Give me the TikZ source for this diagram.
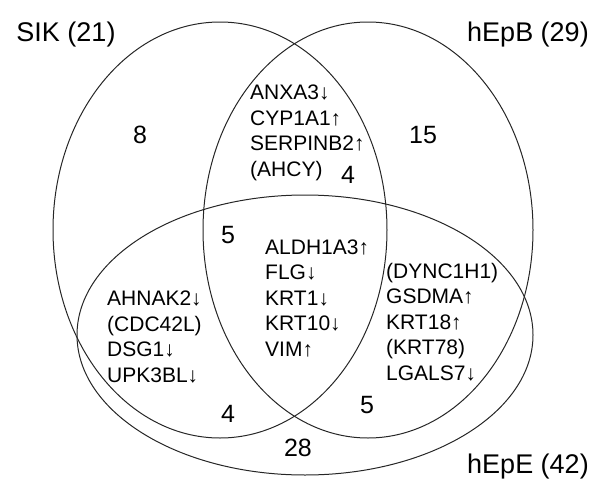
\documentclass[tikz,border=0pt]{standalone}
\usepackage{fontspec}
\setmainfont{Liberation Sans}
\usetikzlibrary{arrows, calc, shapes}

\begin{document}
\begin{tikzpicture}[x=1pt, y=1pt]
\tikzstyle{every node}+=[inner sep=0pt]
\tikzstyle{setname}=[font=\fontsize{27}{32}\selectfont]
\tikzstyle{count}=[font=\fontsize{25}{30}\selectfont]
\tikzstyle{genes}=[font=\fontsize{21}{25.5}\selectfont, align=left, anchor=west]
\tikzstyle{setline}=[black!85, line width=1pt]
\useasboundingbox (0,0) rectangle (600,-498);
% the three sets
\draw [setline] (220,-230) ellipse (167pt and 208pt);
\draw [setline] (368,-230) ellipse (165pt and 208pt);
\draw [setline] (305,-335) ellipse (228pt and 140pt);
\node [setname] (sik) at (66,-35) {SIK (21)};
\node [setname] (hepb) at (528,-35) {hEpB (29)};
\node [setname] (hepe) at (528,-467) {hEpE (42)};
% counts
\node [count] (c8) at (140,-135) {8};
\node [count] (c15) at (423,-135) {15};
\node [count] (c4top) at (348,-175) {4};
\node [count] (c5mid) at (228,-235) {5};
\node [count] (c4low) at (228,-414) {4};
\node [count] (c5low) at (367,-405) {5};
\node [count] (c28) at (298,-448) {28};
% gene lists
\node [genes] (gtop) at (250,-133) {ANXA3↓\\CYP1A1↑\\SERPINB2↑\\(AHCY)};
\node [genes] (gmid) at (265,-298) {ALDH1A3↑\\FLG↓\\KRT1↓\\KRT10↓\\VIM↑};
\node [genes] (gleft) at (107,-337) {AHNAK2↓\\(CDC42L)\\DSG1↓\\UPK3BL↓};
\node [genes] (gright) at (386,-322) {(DYNC1H1)\\GSDMA↑\\KRT18↑\\(KRT78)\\LGALS7↓};
\end{tikzpicture}
\end{document}
